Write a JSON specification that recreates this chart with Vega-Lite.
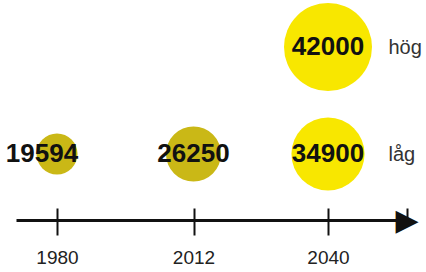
{
  "$schema": "https://vega.github.io/schema/vega-lite/v6.json",
  "width": 426,
  "height": 220,
  "autosize": "none",
  "padding": {"left": 0, "top": 0, "right": 0, "bottom": 52},
  "background": "white",
  "config": {"view": {"stroke": null}, "font": "Liberation Sans"},
  "data": {
    "values": [
      {"year": 1980, "scenario": "låg", "value": 19594, "type": "utfall"},
      {"year": 2012, "scenario": "låg", "value": 26250, "type": "utfall"},
      {"year": 2040, "scenario": "låg", "value": 34900, "type": "prognos"},
      {"year": 2040, "scenario": "hög", "value": 42000, "type": "prognos"}
    ]
  },
  "encoding": {
    "y": {
      "field": "scenario",
      "type": "ordinal",
      "scale": {"type": "point", "domain": ["hög", "låg"], "range": [47, 154], "padding": 0},
      "axis": {
        "orient": "right",
        "offset": -38,
        "domain": false,
        "ticks": false,
        "tickSize": 0,
        "labelPadding": 0,
        "labelAlign": "left",
        "labelBaseline": "middle",
        "labelFontSize": 20,
        "labelColor": "#333333",
        "grid": false,
        "title": null
      }
    }
  },
  "layer": [
    {
      "mark": {"type": "circle", "opacity": 1},
      "encoding": {
        "x": {
          "field": "year",
          "type": "quantitative",
          "scale": {"domain": [1970, 1980, 2012, 2040, 2055], "range": [16, 57, 193.5, 328, 406.5], "nice": false, "zero": false},
          "axis": {
            "orient": "bottom",
            "values": [1980, 2012, 2040],
            "format": "d",
            "domain": true,
            "domainColor": "#111111",
            "domainWidth": 3,
            "ticks": true,
            "tickSize": 15,
            "tickWidth": 2,
            "tickColor": "#111111",
            "labelFontSize": 19,
            "labelColor": "#222222",
            "labelPadding": 13,
            "labelFlush": false,
            "labelOverlap": false,
            "grid": false,
            "title": null
          }
        },
        "size": {
          "field": "value",
          "type": "quantitative",
          "scale": {"type": "pow", "exponent": 2, "domain": [0, 42000], "range": [0, 7744]},
          "legend": null
        },
        "color": {
          "field": "type",
          "type": "nominal",
          "scale": {"domain": ["utfall", "prognos"], "range": ["#cab816", "#f8e700"]},
          "legend": null
        }
      }
    },
    {
      "transform": [{"filter": "datum.year != 1980"}],
      "mark": {"type": "text", "fontSize": 26, "fontWeight": "bold", "color": "#111111", "baseline": "middle", "align": "center"},
      "encoding": {
        "x": {
          "field": "year",
          "type": "quantitative",
          "axis": {
            "orient": "bottom",
            "offset": -12,
            "values": [1980, 2012, 2040, 2055],
            "domain": false,
            "ticks": true,
            "tickSize": 12,
            "tickWidth": 2,
            "tickColor": "#111111",
            "labelExpr": "datum.value >= 2055 ? '▶' : ''",
            "labelFont": "DejaVu Sans",
            "labelFontSize": 30,
            "labelColor": "#111111",
            "labelPadding": 0,
            "labelBaseline": "middle",
            "labelAlign": "center",
            "labelFlush": false,
            "labelOverlap": false,
            "grid": false,
            "title": null
          }
        },
        "text": {"field": "value", "type": "quantitative", "format": "d"}
      }
    },
    {
      "transform": [{"filter": "datum.year == 1980"}],
      "mark": {"type": "text", "fontSize": 26, "fontWeight": "bold", "color": "#111111", "baseline": "middle", "align": "center", "dx": -15},
      "encoding": {
        "x": {"field": "year", "type": "quantitative", "axis": null},
        "text": {"field": "value", "type": "quantitative", "format": "d"}
      }
    }
  ],
  "resolve": {"axis": {"x": "independent"}}
}
